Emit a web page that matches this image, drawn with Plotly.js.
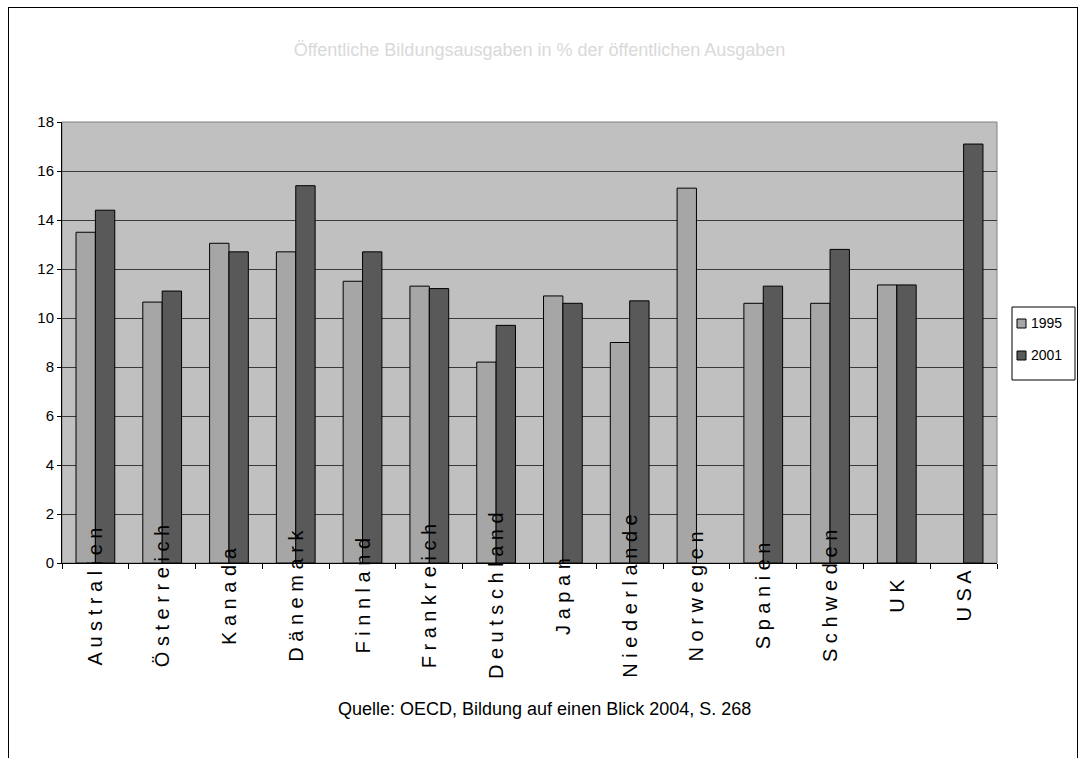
<!DOCTYPE html>
<html>
<head>
<meta charset="utf-8">
<script src="https://cdn.plot.ly/plotly-3.0.1.min.js"></script>
<style>
  html, body { margin: 0; padding: 0; background: #ffffff; }
  #chart { position: absolute; left: 0; top: 0; width: 1079px; height: 758px; }
  #frame { position: absolute; left: 8px; top: 7px; width: 1068px; height: 800px; border: 1px solid #000; pointer-events: none; }
</style>
</head>
<body>
<div id="chart"></div>
<div id="frame"></div>
<script>
const categories = ["Australien", "Österreich", "Kanada", "Dänemark", "Finnland", "Frankreich",
  "Deutschland", "Japan", "Niederlande", "Norwegen", "Spanien", "Schweden", "UK", "USA"];
const values1995 = [13.5, 10.65, 13.05, 12.7, 11.5, 11.3, 8.2, 10.9, 9.0, 15.3, 10.6, 10.6, 11.35, null];
const values2001 = [14.4, 11.1, 12.7, 15.4, 12.7, 11.2, 9.7, 10.6, 10.7, null, 11.3, 12.8, 11.35, 17.1];
const seriesNames = ["1995", "2001"];
const seriesColors = ["#A6A6A6", "#595959"];
const yTicks = [0, 2, 4, 6, 8, 10, 12, 14, 16, 18];
const titleText = "Öffentliche Bildungsausgaben in % der öffentlichen Ausgaben";
const sourceText = "Quelle: OECD, Bildung auf einen Blick 2004, S. 268";

const FONT = "Liberation Sans, Arial, sans-serif";
const spaced = s => Array.from(s).join(" ");

// plot area in pixels (for layout placement of legend / notes)
const PL = 62, PR = 997, PT = 122, PB = 563;
const px = v => (v - PL) / (PR - PL);
const py = v => (PB - v) / (PB - PT);

const traces = [values1995, values2001].map((vals, i) => ({
  type: "bar", name: seriesNames[i], x: categories, y: vals,
  marker: { color: seriesColors[i], line: { color: "#000000", width: 1 } },
  showlegend: false
}));

const labelAnnotations = categories.map(c => ({
  x: c, xref: "x", y: py(596), yref: "paper",
  text: spaced(c), textangle: -90, showarrow: false,
  xanchor: "center", yanchor: "middle",
  font: { family: FONT, size: 20, color: "#000000" }
}));

// manual legend
const legendShapes = [{
  type: "rect", xref: "paper", yref: "paper",
  x0: px(1012), x1: px(1075), y0: py(307), y1: py(380),
  line: { color: "#000000", width: 1 }, fillcolor: "#FFFFFF", layer: "above"
}];
const legendAnnotations = [];
seriesNames.forEach((name, i) => {
  const cy = 323 + i * 32;
  legendShapes.push({
    type: "rect", xref: "paper", yref: "paper",
    x0: px(1017), x1: px(1026), y0: py(cy + 5), y1: py(cy - 4),
    line: { color: "#000000", width: 1 }, fillcolor: seriesColors[i], layer: "above"
  });
  legendAnnotations.push({
    text: name, xref: "paper", yref: "paper", x: px(1029), y: py(cy),
    xanchor: "left", yanchor: "middle", showarrow: false,
    font: { family: FONT, size: 14, color: "#000000" }
  });
});

const layout = {
  width: 1079, height: 758,
  paper_bgcolor: "rgba(0,0,0,0)",
  plot_bgcolor: "#C0C0C0",
  margin: { l: PL, r: 1079 - PR, t: PT, b: 758 - PB, autoexpand: false },
  font: { family: FONT, color: "#000000" },
  title: {
    text: titleText, x: 0.5, xref: "container", xanchor: "center",
    y: 1 - 50 / 758, yref: "container", yanchor: "middle",
    font: { family: FONT, size: 18, color: "#D9D9D9" }
  },
  barmode: "group",
  bargap: 0.42,
  bargroupgap: 0,
  showlegend: false,
  xaxis: {
    type: "category", range: [-0.5, categories.length - 0.5],
    showticklabels: false, ticks: "outside", tickson: "boundaries",
    ticklen: 5, tickcolor: "#000000", showline: true, linecolor: "#000000",
    linewidth: 1, showgrid: false, fixedrange: true
  },
  yaxis: {
    range: [0, 18], tickvals: yTicks, ticktext: yTicks.map(String),
    ticks: "outside", ticklen: 4, tickcolor: "#000000",
    showline: true, linecolor: "#000000", linewidth: 1,
    showgrid: true, gridcolor: "#3A3A3A", gridwidth: 1,
    zeroline: false, tickfont: { family: FONT, size: 15, color: "#000000" },
    fixedrange: true
  },
  shapes: [{
    type: "rect", xref: "paper", yref: "paper", x0: 0, x1: 1, y0: 0, y1: 1,
    line: { color: "#808080", width: 1 }, fillcolor: "rgba(0,0,0,0)", layer: "below"
  }].concat(legendShapes),
  annotations: labelAnnotations.concat(legendAnnotations, [{
    text: sourceText, xref: "paper", yref: "paper",
    x: px(544), y: py(709), xanchor: "center", yanchor: "middle",
    showarrow: false, font: { family: FONT, size: 18, color: "#000000" }
  }])
};

Plotly.newPlot("chart", traces, layout, { displayModeBar: false, staticPlot: true });
</script>
</body>
</html>
